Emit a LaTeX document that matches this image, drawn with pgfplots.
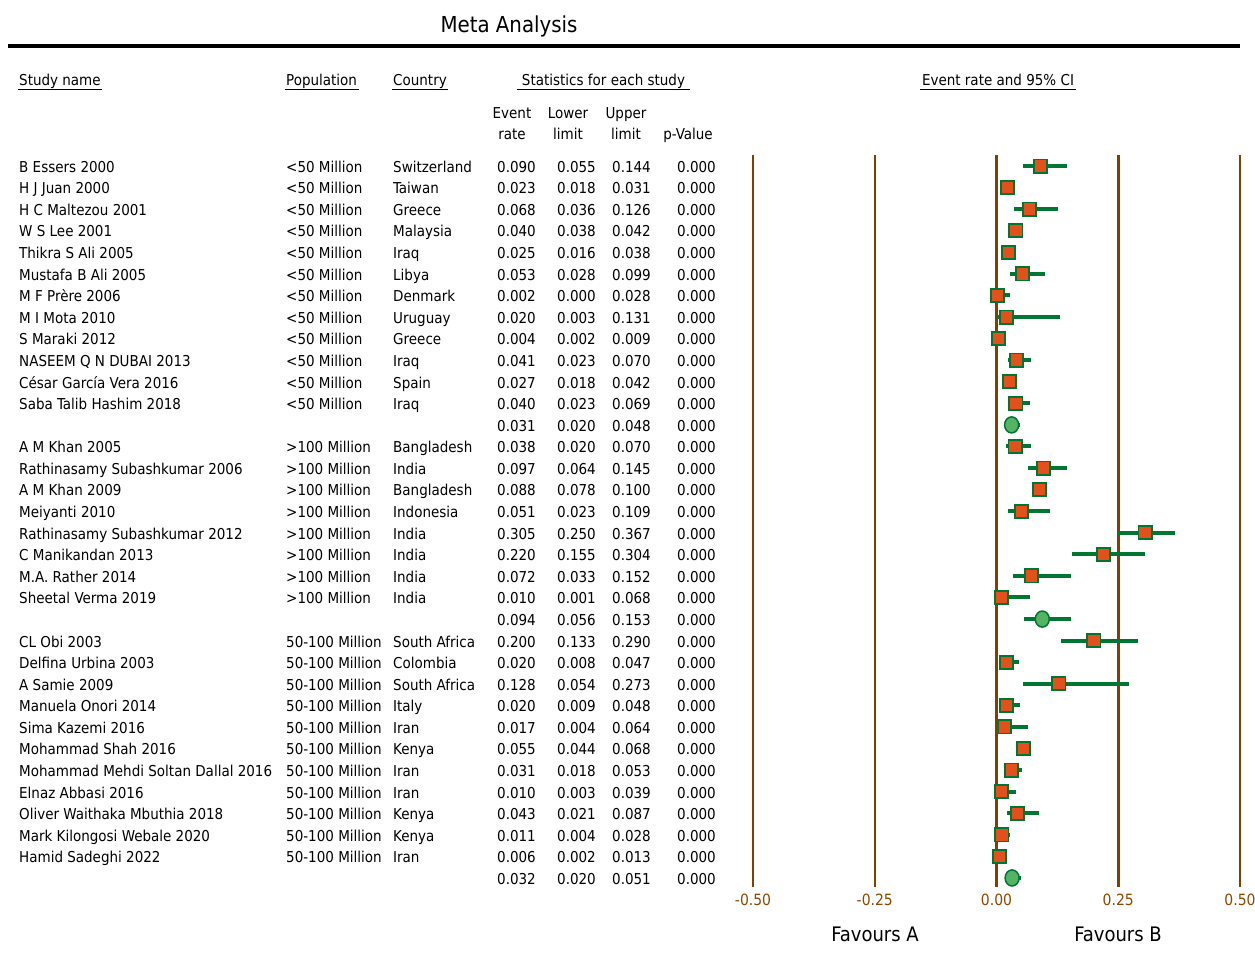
\documentclass[border=0pt]{standalone}
\usepackage{pgfplots}
\pgfplotsset{compat=1.18}
\usepackage{pgfplotstable}
\usepackage{fontspec}
\setmainfont{DejaVu Sans Condensed}
\definecolor{brn}{RGB}{128,64,0}
\definecolor{tkc}{RGB}{140,72,0}
\definecolor{sqf}{RGB}{228,80,28}
\definecolor{grn}{RGB}{0,118,50}
\definecolor{cirf}{RGB}{84,180,100}

\pgfplotstableread{
row est lo hi
0 0.090 0.055 0.144
1 0.023 0.018 0.031
2 0.068 0.036 0.126
3 0.040 0.038 0.042
4 0.025 0.016 0.038
5 0.053 0.028 0.099
6 0.002 0.000 0.028
7 0.020 0.003 0.131
8 0.004 0.002 0.009
9 0.041 0.023 0.070
10 0.027 0.018 0.042
11 0.040 0.023 0.069
13 0.038 0.020 0.070
14 0.097 0.064 0.145
15 0.088 0.078 0.100
16 0.051 0.023 0.109
17 0.305 0.250 0.367
18 0.220 0.155 0.304
19 0.072 0.033 0.152
20 0.010 0.001 0.068
22 0.200 0.133 0.290
23 0.020 0.008 0.047
24 0.128 0.054 0.273
25 0.020 0.009 0.048
26 0.017 0.004 0.064
27 0.055 0.044 0.068
28 0.031 0.018 0.053
29 0.010 0.003 0.039
30 0.043 0.021 0.087
31 0.011 0.004 0.028
32 0.006 0.002 0.013
}\studies
\pgfplotstableread{
row est lo hi
12 0.031 0.020 0.048
21 0.094 0.056 0.153
33 0.032 0.020 0.051
}\summ

\newcommand{\rowfont}{\fontsize{15}{18}\selectfont}
\begin{document}
\begin{tikzpicture}[x=1pt,y=1pt]
\useasboundingbox (0,0) rectangle (1255,-972);
\node[font=\fontsize{22}{26}\selectfont] at (509,-26) {Meta Analysis};
\draw[line width=4pt] (8,-46) -- (1240,-46);
% headers
\begin{scope}[every node/.style={font=\rowfont, inner sep=0pt, yshift=-3.5pt}]
\node[anchor=mid west] at (19,-79) {Study name};
\draw[line width=1pt] (18,-89) -- (102,-89);
\node[anchor=mid west] at (286,-79) {Population};
\draw[line width=1pt] (285,-89) -- (359,-89);
\node[anchor=mid west] at (393,-79) {Country};
\draw[line width=1pt] (392,-89) -- (448,-89);
\node[anchor=mid] at (603.5,-79) {Statistics for each study};
\draw[line width=1pt] (517,-89) -- (690,-89);
\node[anchor=mid] at (998,-79) {Event rate and 95\% CI};
\draw[line width=1pt] (920,-89) -- (1076,-89);
\node[anchor=mid] at (512,-112) {Event};
\node[anchor=mid] at (512,-133) {rate};
\node[anchor=mid] at (568,-112) {Lower};
\node[anchor=mid] at (568,-133) {limit};
\node[anchor=mid] at (626,-112) {Upper};
\node[anchor=mid] at (626,-133) {limit};
\node[anchor=mid] at (688,-133) {p-Value};
% study rows
\foreach \i/\n/\p/\c/\e/\l/\u in {
0/B Essers 2000/<50 Million/Switzerland/0.090/0.055/0.144,
1/H J Juan 2000/<50 Million/Taiwan/0.023/0.018/0.031,
2/H C Maltezou 2001/<50 Million/Greece/0.068/0.036/0.126,
3/W S Lee 2001/<50 Million/Malaysia/0.040/0.038/0.042,
4/Thikra S Ali 2005/<50 Million/Iraq/0.025/0.016/0.038,
5/Mustafa B Ali 2005/<50 Million/Libya/0.053/0.028/0.099,
6/M F Prère 2006/<50 Million/Denmark/0.002/0.000/0.028,
7/M I Mota 2010/<50 Million/Uruguay/0.020/0.003/0.131,
8/S Maraki 2012/<50 Million/Greece/0.004/0.002/0.009,
9/NASEEM Q N DUBAI 2013/<50 Million/Iraq/0.041/0.023/0.070,
10/César García Vera 2016/<50 Million/Spain/0.027/0.018/0.042,
11/Saba Talib Hashim 2018/<50 Million/Iraq/0.040/0.023/0.069,
12/ / / /0.031/0.020/0.048,
13/A M Khan 2005/>100 Million/Bangladesh/0.038/0.020/0.070,
14/Rathinasamy Subashkumar 2006/>100 Million/India/0.097/0.064/0.145,
15/A M Khan 2009/>100 Million/Bangladesh/0.088/0.078/0.100,
16/Meiyanti 2010/>100 Million/Indonesia/0.051/0.023/0.109,
17/Rathinasamy Subashkumar 2012/>100 Million/India/0.305/0.250/0.367,
18/C Manikandan 2013/>100 Million/India/0.220/0.155/0.304,
19/M.A. Rather 2014/>100 Million/India/0.072/0.033/0.152,
20/Sheetal Verma 2019/>100 Million/India/0.010/0.001/0.068,
21/ / / /0.094/0.056/0.153,
22/CL Obi 2003/50-100 Million/South Africa/0.200/0.133/0.290,
23/Delfina Urbina 2003/50-100 Million/Colombia/0.020/0.008/0.047,
24/A Samie 2009/50-100 Million/South Africa/0.128/0.054/0.273,
25/Manuela Onori 2014/50-100 Million/Italy/0.020/0.009/0.048,
26/Sima Kazemi 2016/50-100 Million/Iran/0.017/0.004/0.064,
27/Mohammad Shah 2016/50-100 Million/Kenya/0.055/0.044/0.068,
28/Mohammad Mehdi Soltan Dallal 2016/50-100 Million/Iran/0.031/0.018/0.053,
29/Elnaz Abbasi 2016/50-100 Million/Iran/0.010/0.003/0.039,
30/Oliver Waithaka Mbuthia 2018/50-100 Million/Kenya/0.043/0.021/0.087,
31/Mark Kilongosi Webale 2020/50-100 Million/Kenya/0.011/0.004/0.028,
32/Hamid Sadeghi 2022/50-100 Million/Iran/0.006/0.002/0.013,
33/ / / /0.032/0.020/0.051}{
  \pgfmathsetmacro{\yy}{-166-21.58*\i}
  \node[anchor=mid west] at (19,\yy) {\n};
  \node[anchor=mid west] at (286,\yy) {\p};
  \node[anchor=mid west] at (393,\yy) {\c};
  \node[anchor=mid east] at (536,\yy) {\e};
  \node[anchor=mid east] at (596,\yy) {\l};
  \node[anchor=mid east] at (651,\yy) {\u};
  \node[anchor=mid east] at (716,\yy) {0.000};
}
\end{scope}
\node[font=\fontsize{20}{24}\selectfont] at (875,-934) {Favours A};
\node[font=\fontsize{20}{24}\selectfont] at (1118,-934) {Favours B};
\begin{axis}[
  at={(753pt,-887pt)}, anchor=south west,
  width=487pt, height=732pt, scale only axis,
  xmin=-0.5, xmax=0.5, ymin=-0.51, ymax=33.42, y dir=reverse,
  axis line style={draw=none},
  xtick={-0.5,-0.25,0,0.25,0.5},
  xticklabels={-0.50,-0.25,0.00,0.25,0.50},
  ytick=\empty,
  xmajorgrids, grid style={brn, line width=2.5pt},
  major tick length=0pt,
  xticklabel style={text=tkc, font=\fontsize{15.5}{18}\selectfont, inner sep=0pt, anchor=mid, yshift=-16pt},
  clip=false,
]
\addplot[only marks, mark=none, forget plot,
  error bars/.cd, x dir=both, x explicit, error mark=none,
  error bar style={draw=grn, line width=4pt}]
  table[x=est, y=row, x error plus expr=\thisrow{hi}-\thisrow{est}, x error minus expr=\thisrow{est}-\thisrow{lo}] {\studies};
\addplot[only marks, mark=none, forget plot,
  error bars/.cd, x dir=both, x explicit, error mark=none,
  error bar style={draw=grn, line width=4pt}]
  table[x=est, y=row, x error plus expr=\thisrow{hi}-\thisrow{est}, x error minus expr=\thisrow{est}-\thisrow{lo}] {\summ};
\addplot[only marks, mark=square*, mark size=6.6pt,
  mark options={fill=sqf, draw=grn, line width=1.8pt}]
  table[x=est, y=row] {\studies};
\addplot[only marks, mark=*, mark size=7pt,
  mark options={fill=cirf, draw=grn, line width=1.5pt, yscale=1.15}]
  table[x=est, y=row] {\summ};
\end{axis}
\end{tikzpicture}
\end{document}
